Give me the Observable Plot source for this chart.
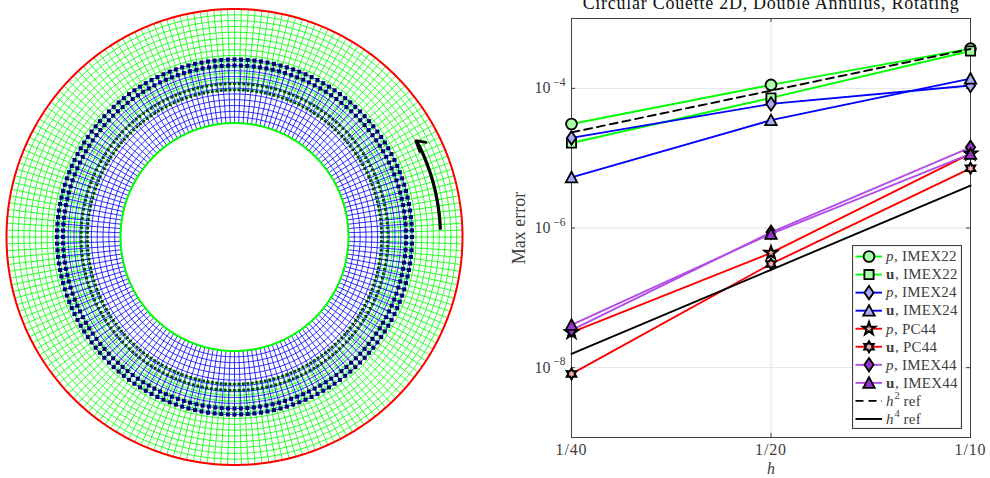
<!DOCTYPE html>
<html>
<head>
<meta charset="utf-8">
<script src="https://cdn.jsdelivr.net/npm/d3@7"></script>
<script src="https://cdn.jsdelivr.net/npm/@observablehq/plot@0.6"></script>
<style>
html,body{margin:0;padding:0;background:#fff;overflow:hidden}
#stage{position:relative;width:990px;height:478px;overflow:hidden}
#stage svg{position:absolute;overflow:hidden;background:transparent}
g[aria-label="x-axis tick label"] text{letter-spacing:.85px}
</style>
</head>
<body>
<div id="stage"></div>
<script>
// ---------- Mesh (left panel), lengths in units of the inner radius ----------
const blueRadii = [1.000,1.051,1.102,1.153,1.204,1.255,1.306,1.357,1.408,1.459,1.505,1.558];
const greenRadii = [2.000,1.949,1.898,1.847,1.796,1.745,1.694,1.643,1.592,1.541,1.490,1.439,1.388,1.345,1.290];
const bluePanels = 168;
const greenPanels = 208;
const blueFringeRadii = [1.505,1.558];
const greenFringeRadii = [1.345,1.290];
const innerBoundary = 1.0;
const outerBoundary = 2.0;
const arrowRadius = 1.807;
const arrowAngles = [2.4,6,10,14,18,22,25,27.5];
const arrowHeadX = [1.68,1.588,1.625];
const arrowHeadY = [0.83,0.846,0.75];

// ---------- Convergence data (right panel) ----------
const h = [1/40,1/20,1/10];
const hLabels = ["1/40","1/20","1/10"];
const yTicks = [1e-4,1e-6,1e-8];
const yExponents = ["−4","−6","−8"];
const pIMEX22 = [3.09e-5,1.12e-4,3.70e-4];
const uIMEX22 = [1.65e-5,7.29e-5,3.43e-4];
const pIMEX24 = [1.95e-5,5.98e-5,1.10e-4];
const uIMEX24 = [5.32e-6,3.50e-5,1.38e-4];
const pPC44 = [3.21e-8,4.40e-7,1.16e-5];
const uPC44 = [8.15e-9,3.06e-7,7.16e-6];
const pIMEX44 = [3.45e-8,8.68e-7,1.43e-5];
const uIMEX44 = [4.10e-8,8.24e-7,1.15e-5];
const h2ref = [2.34e-5,9.27e-5,3.66e-4];
const h4ref = [1.58e-8,2.52e-7,4.05e-6];

const legendVar = ["p","u","p","u","p","u","p","u","h","h"];
const legendRest = [", IMEX22",", IMEX22",", IMEX24",", IMEX24",", PC44",", PC44",", IMEX44",", IMEX44","ref","ref"];
const legendSup = ["","","","","","","","","2","4"];
const chartTitle = "Circular Couette 2D, Double Annulus, Rotating";

const GREEN="#00ff00", BLUE="#0000ff", RED="#ff0000", PURPLE="#b24de6";
const SERIF='"Liberation Serif","DejaVu Serif",serif';
const GRAY="#404040";

// marker shapes, scaled from the size Plot hands over
const poly = pts => ({draw(c,size){const k=Math.sqrt(size/Math.PI)/6;pts.forEach(([x,y],i)=>i?c.lineTo(x*k,y*k):c.moveTo(x*k,y*k));c.closePath();}});
const starPts=(n,R,r)=>d3.range(2*n).map(i=>{const a=-Math.PI/2+i*Math.PI/n,q=i%2?r:R;return [q*Math.cos(a),q*Math.sin(a)];});
const mCircle={draw(c,size){const r=Math.sqrt(size/Math.PI)*0.9;c.moveTo(r,0);c.arc(0,0,r,0,2*Math.PI);}};
const mSquare=poly([[-4.6,-4.6],[4.6,-4.6],[4.6,4.6],[-4.6,4.6]]);
const mDiamond=poly([[0,-6.7],[4.6,0],[0,6.7],[-4.6,0]]);
const mTriangle=poly([[0,-5.6],[5.7,5],[-5.7,5]]);
const mStar=poly(starPts(5,6.6,2.6));
const mHex=poly(starPts(6,5.4,3.1));

const series=[
 {v:pIMEX22,stroke:GREEN,fill:"#aaffaa",symbol:mCircle},
 {v:uIMEX22,stroke:GREEN,fill:"#aaffaa",symbol:mSquare},
 {v:pIMEX24,stroke:BLUE,fill:"#aaaaff",symbol:mDiamond},
 {v:uIMEX24,stroke:BLUE,fill:"#aaaaff",symbol:mTriangle},
 {v:pPC44,stroke:RED,fill:"#ffaaaa",symbol:mStar,sw:2.1},
 {v:uPC44,stroke:RED,fill:"#ffaaaa",symbol:mHex,sw:2.1},
 {v:pIMEX44,stroke:PURPLE,fill:"#9933cc",symbol:mDiamond},
 {v:uIMEX44,stroke:PURPLE,fill:"#9933cc",symbol:mTriangle},
 {v:h2ref,stroke:"#000",dash:"8 5"},
 {v:h4ref,stroke:"#000"}
];

// ---------- Left: mesh ----------
const polar=(r,a)=>[r*Math.cos(a),r*Math.sin(a)];
function circleLine(r,opt){
  const pts=d3.range(0,361,1).map(d=>polar(r,d*Math.PI/180));
  return Plot.line(pts,{x:d=>d[0],y:d=>d[1],...opt});
}
function spokes(r0,r1,n,opt){
  return Plot.link(d3.range(n),{
    x1:i=>polar(r0,2*Math.PI*i/n)[0],y1:i=>polar(r0,2*Math.PI*i/n)[1],
    x2:i=>polar(r1,2*Math.PI*i/n)[0],y2:i=>polar(r1,2*Math.PI*i/n)[1],...opt});
}
function fringe(radii,n,opt){
  const pts=radii.flatMap(r=>d3.range(n).map(i=>polar(r,2*Math.PI*i/n)));
  return Plot.dot(pts,{x:d=>d[0],y:d=>d[1],...opt});
}
const meshStyle=(c)=>({stroke:c,strokeWidth:0.8});
const mesh=Plot.plot({
  width:470,height:478,margin:0,
  x:{domain:[-234/114,236/114],axis:null},
  y:{domain:[-241.5/114,236.5/114],axis:null},
  marks:[
    ...greenRadii.map(r=>circleLine(r,meshStyle(GREEN))),
    spokes(greenRadii[greenRadii.length-1],outerBoundary,greenPanels,meshStyle(GREEN)),
    ...blueRadii.map(r=>circleLine(r,meshStyle(BLUE))),
    spokes(innerBoundary,blueRadii[blueRadii.length-1],bluePanels,meshStyle(BLUE)),
    fringe(greenFringeRadii,greenPanels,{r:1.5,fill:"#004400",symbol:"square"}),
    fringe(blueFringeRadii,bluePanels,{r:2.25,fill:"#000070",symbol:"square"}),
    circleLine(innerBoundary,{stroke:GREEN,strokeWidth:2}),
    circleLine(outerBoundary,{stroke:RED,strokeWidth:2}),
    Plot.line(arrowAngles,{x:d=>polar(arrowRadius,d*Math.PI/180)[0],y:d=>polar(arrowRadius,d*Math.PI/180)[1],stroke:"#000",strokeWidth:3.2,curve:"catmull-rom"}),
    Plot.line(arrowHeadX,{x:arrowHeadX,y:arrowHeadY,stroke:"#000",strokeWidth:2.6,strokeLinejoin:"miter"})
  ]
});
mesh.style.left="0px";mesh.style.top="0px";

// ---------- Right: convergence ----------
const chart=Plot.plot({
  width:490,height:478,marginLeft:71,marginRight:20,marginTop:18,marginBottom:41,
  style:{fontFamily:SERIF},
  x:{type:"log",domain:[1/40,1/10],axis:null},
  y:{type:"log",domain:[1e-9,1e-3],axis:null},
  marks:[
    Plot.ruleY(yTicks,{stroke:"#e4e4e4",strokeWidth:1}),
    Plot.ruleX([1/20],{stroke:"#e4e4e4",strokeWidth:1}),
    Plot.tickY(yTicks,{y:d=>d,stroke:GRAY,insetRight:395}),
    Plot.tickY(yTicks,{y:d=>d,stroke:GRAY,insetLeft:395}),
    Plot.tickX([1/20],{x:d=>d,stroke:GRAY,insetBottom:415}),
    Plot.tickX([1/20],{x:d=>d,stroke:GRAY,insetTop:415}),
    Plot.frame({stroke:GRAY,strokeWidth:1}),
    Plot.axisX(h,{tickSize:0,tickPadding:6,fontSize:16,tickFormat:d=>hLabels[h.indexOf(d)],label:null,fill:GRAY}),
    Plot.text(yTicks,{x:()=>1/40,y:d=>d,text:()=>"10",textAnchor:"end",dx:-21,dy:0,fontSize:16,fill:GRAY}),
    Plot.text(yTicks,{x:()=>1/40,y:d=>d,text:(d,i)=>yExponents[i],textAnchor:"end",dx:-6,dy:-6,fontSize:11.5,fill:GRAY}),
    ...series.flatMap(s=>{
      const ms=[Plot.line(h,{x:h,y:s.v,stroke:s.stroke,strokeWidth:1.9,strokeDasharray:s.dash})];
      if(s.symbol) ms.push(Plot.dot(h,{x:h,y:s.v,symbol:s.symbol,r:6,fill:s.fill,stroke:"#000",strokeWidth:s.sw||1.8}));
      return ms;
    }),
    Plot.text([chartTitle],{frameAnchor:"top",lineAnchor:"middle",dy:-15,fontSize:18,fill:"#111"}),
    Plot.text(["Max error"],{frameAnchor:"left",textAnchor:"middle",dx:-52,rotate:-90,fontSize:18,fill:GRAY}),
    Plot.text(["h"],{frameAnchor:"bottom",lineAnchor:"middle",dy:31.5,fontSize:16,fontStyle:"italic",fill:GRAY})
  ]
});
chart.style.left="500px";chart.style.top="0px";
chart.querySelectorAll("text").forEach(t=>{ if(t.textContent===chartTitle) t.style.letterSpacing=".74px"; });

// ---------- Legend ----------
const rowIdx=d3.range(legendVar.length);
const varMark=(name,opt)=>Plot.text(rowIdx.filter(i=>legendVar[i]===name),{x:()=>33.5,y:i=>11+i*18,text:i=>legendVar[i],textAnchor:"start",fontSize:15,fill:GRAY,...opt});
const legend=Plot.plot({
  width:110,height:184,margin:0,
  style:{fontFamily:SERIF},
  x:{domain:[0,110],axis:null},
  y:{domain:[183.5,0],axis:null},
  marks:[
    Plot.rect([0],{x1:()=>0.5,x2:()=>109.5,y1:()=>0.5,y2:()=>183,fill:"#fff",stroke:GRAY,strokeWidth:1.2}),
    ...series.flatMap((s,i)=>{
      const yy=11+i*18;
      const ms=[Plot.ruleY([yy],{x1:()=>3.5,x2:()=>30,stroke:s.stroke,strokeWidth:1.9,strokeDasharray:s.dash})];
      if(s.symbol) ms.push(Plot.dot([yy],{x:()=>16.5,y:d=>d,symbol:s.symbol,r:6,fill:s.fill,stroke:"#000",strokeWidth:s.sw||1.8}));
      return ms;
    }),
    varMark("p",{fontStyle:"italic"}),
    varMark("h",{fontStyle:"italic"}),
    varMark("u",{fontWeight:"bold"}),
    Plot.text(rowIdx,{x:i=>legendVar[i]==="h"?51:(legendVar[i]==="u"?42.5:41.5),y:i=>11+i*18,text:i=>legendRest[i],textAnchor:"start",fontSize:15,fill:GRAY}),
    Plot.text(rowIdx.filter(i=>legendSup[i]),{x:()=>42,y:i=>11+i*18,dy:-5,text:i=>legendSup[i],textAnchor:"start",fontSize:10.5,fill:GRAY})
  ]
});
legend.style.left="852px";legend.style.top="245px";
legend.querySelectorAll("text").forEach(t=>{ if(legendRest.includes(t.textContent)) t.style.letterSpacing=".25px"; });

const stage=document.getElementById("stage");
stage.append(mesh,chart,legend);
</script>
</body>
</html>
